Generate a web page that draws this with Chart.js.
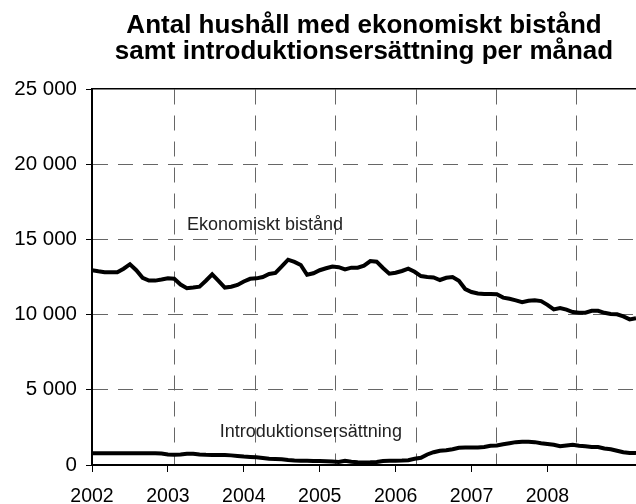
<!DOCTYPE html>
<html>
<head>
<meta charset="utf-8">
<script src="https://cdn.jsdelivr.net/npm/chart.js@4/dist/chart.umd.min.js"></script>
<style>
  html, body { margin: 0; padding: 0; background: #fff; }
  #wrap { width: 636px; height: 504px; }
</style>
</head>
<body>
<div id="wrap"><canvas id="chart" width="636" height="504"></canvas></div>
<script>
// Year labels on the x axis (one tick every 12 months, starting Jan 2002)
const years = ['2002', '2003', '2004', '2005', '2006', '2007', '2008'];

// Households per month, Jan 2002 onwards
const ekonomisktBistand = [
  12950, 12880, 12820, 12810, 12810, 13050, 13350, 12950, 12450, 12260, 12260, 12330,
  12410, 12380, 12000, 11750, 11800, 11860, 12250, 12680, 12250, 11800, 11850, 11970,
  12200, 12380, 12410, 12500, 12700, 12770, 13200, 13650, 13500, 13300, 12650, 12750,
  12950, 13080, 13200, 13150, 13000, 13120, 13120, 13250, 13560, 13520, 13100, 12720,
  12780, 12900, 13050, 12850, 12560, 12500, 12470, 12300, 12450, 12500, 12250, 11700,
  11500, 11400, 11370, 11370, 11350, 11130, 11050, 10950, 10830, 10920, 10950, 10900,
  10650, 10350, 10440, 10330, 10170, 10130, 10130, 10250, 10250, 10120, 10040, 10020,
  9880, 9680, 9760
];

const introduktionsersattning = [
  780, 780, 780, 780, 780, 780, 780, 780, 780, 780, 780, 760,
  700, 680, 700, 750, 750, 700, 680, 670, 670, 660, 640, 600,
  560, 540, 520, 470, 420, 400, 380, 330, 300, 290, 280, 270,
  260, 250, 240, 200, 280, 220, 180, 170, 180, 200, 260, 280,
  290, 300, 320, 420, 480, 700, 850, 950, 980, 1050, 1150, 1160,
  1160, 1170, 1200, 1280, 1300, 1380, 1450, 1520, 1550, 1550, 1520, 1450,
  1400, 1350, 1250, 1300, 1350, 1280, 1250, 1200, 1200, 1100, 1050, 950,
  850, 800, 790
];

// Series names written next to the lines (month index, value of text baseline)
const seriesNotes = [
  { text: 'Ekonomiskt bistånd', month: 15, value: 15630 },
  { text: 'Introduktionsersättning', month: 20.2, value: 1860 }
];

const FONT = "'Liberation Sans', Arial, sans-serif";

// thousands separated by a space, Swedish style
function spaced(v) {
  return String(v).replace(/\B(?=(\d{3})+(?!\d))/g, ' ');
}

const toPoints = arr => arr.map((v, i) => ({ x: i, y: v }));

// draws the series names on the plot
const notesPlugin = {
  id: 'notes',
  afterDatasetsDraw(chart) {
    const { ctx, scales } = chart;
    ctx.save();
    ctx.font = '18px ' + FONT;
    ctx.fillStyle = '#222';
    ctx.textAlign = 'left';
    ctx.textBaseline = 'alphabetic';
    seriesNotes.forEach(n => {
      ctx.fillText(n.text, scales.x.getPixelForValue(n.month), scales.y.getPixelForValue(n.value));
    });
    ctx.restore();
  }
};

new Chart(document.getElementById('chart'), {
  type: 'line',
  data: {
    datasets: [
      { label: 'Ekonomiskt bistånd', data: toPoints(ekonomisktBistand), borderColor: '#000', borderWidth: 4, pointRadius: 0, tension: 0 },
      { label: 'Introduktionsersättning', data: toPoints(introduktionsersattning), borderColor: '#000', borderWidth: 4, pointRadius: 0, tension: 0 }
    ]
  },
  options: {
    responsive: false,
    animation: false,
    layout: { padding: 0 },
    plugins: {
      legend: { display: false },
      tooltip: { enabled: false },
      title: {
        display: true,
        fullSize: false,
        text: ['Antal hushåll med ekonomiskt bistånd', 'samt introduktionsersättning per månad'],
        color: '#000',
        font: { family: FONT, size: 26, weight: 'bold', lineHeight: 1 },
        padding: { top: 13, bottom: 24 }
      }
    },
    scales: {
      x: {
        type: 'linear',
        position: 'bottom',
        min: 0,
        max: 86,
        afterBuildTicks: s => { s.ticks = years.map((_, i) => ({ value: i * 12 })); },
        afterFit: s => { s.height = 39; },
        ticks: {
          color: '#000',
          font: { family: FONT, size: 19.5 },
          padding: 13,
          maxRotation: 0,
          callback: v => years[v / 12]
        },
        grid: { drawOnChartArea: false, tickLength: 7, tickColor: '#000', tickWidth: 1 },
        border: { color: '#000', width: 2 }
      },
      // only carries the vertical dashed grid and the top frame line
      x2: {
        type: 'linear',
        position: 'top',
        min: -0.032,
        max: 6.734,
        afterBuildTicks: s => { s.ticks = [1, 2, 3, 4, 5, 6].map(v => ({ value: v })); },
        afterFit: s => { s.height = 0; },
        ticks: { display: false },
        grid: { color: '#666', lineWidth: 1, drawTicks: false },
        border: { color: '#000', width: 1.5, dash: [15, 11] }
      },
      y: {
        min: 0,
        max: 25000,
        afterBuildTicks: s => { s.ticks = [0, 5000, 10000, 15000, 20000, 25000].map(v => ({ value: v })); },
        afterFit: s => { s.width = 92; },
        ticks: {
          color: '#000',
          font: { family: FONT, size: 20.5 },
          padding: 9,
          callback: v => spaced(v)
        },
        grid: {
          color: ctx => (ctx.tick && (ctx.tick.value === 0 || ctx.tick.value === 25000)) ? 'rgba(0,0,0,0)' : '#666',
          lineWidth: 1,
          tickLength: 6,
          tickColor: '#000',
          tickWidth: 1
        },
        border: { color: '#000', width: 2, dash: [15, 10] }
      }
    }
  },
  plugins: [notesPlugin]
});
</script>
</body>
</html>
